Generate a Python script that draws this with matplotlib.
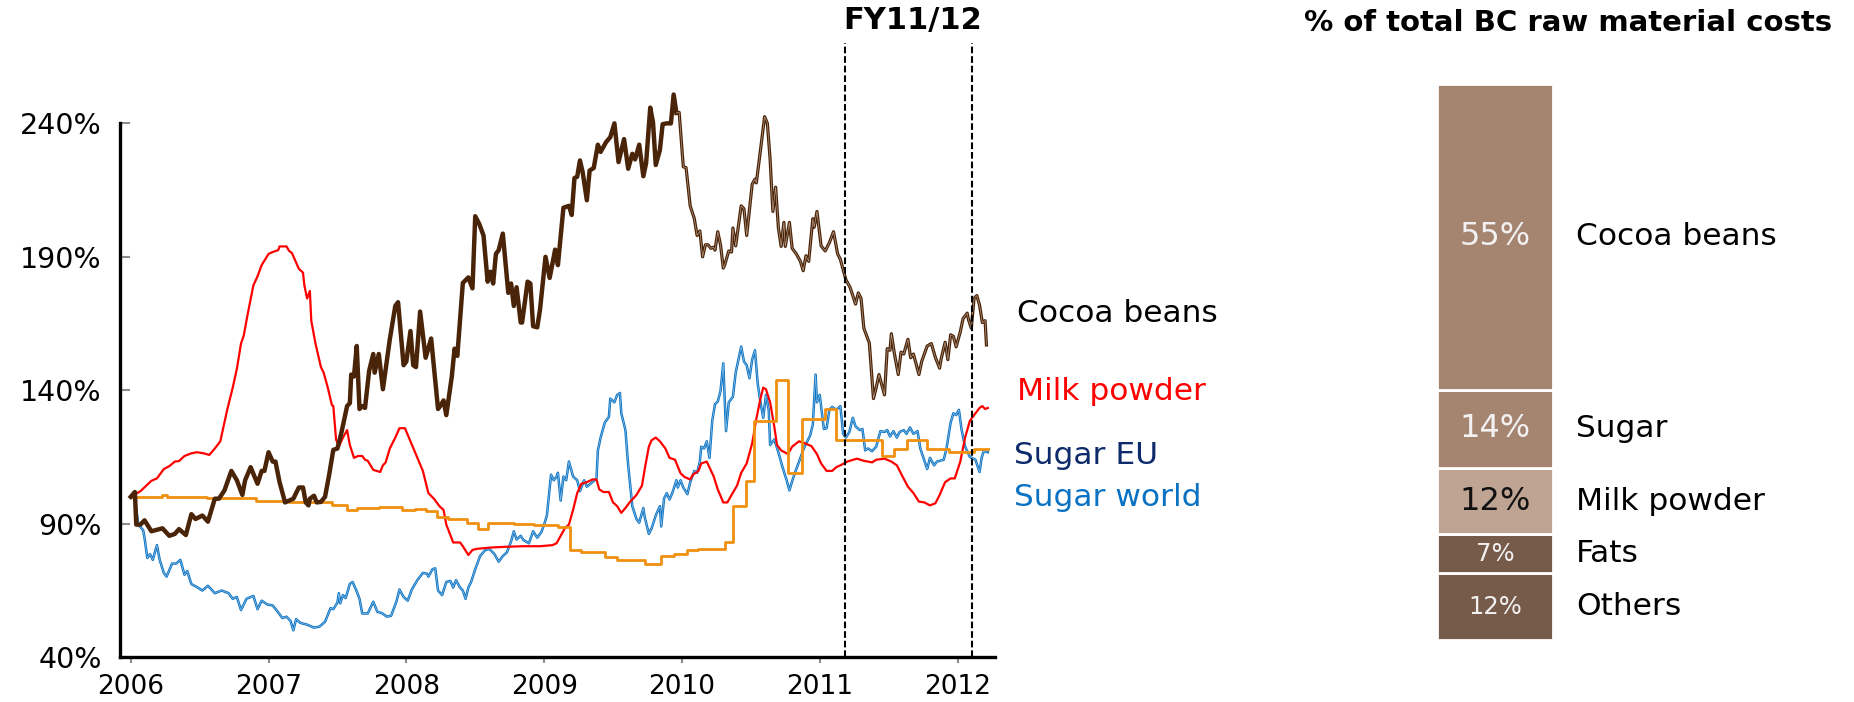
import matplotlib
matplotlib.use('Agg')
import matplotlib.pyplot as plt

W, H = 1854, 702

# price index, weekly, 2006 = 100%
cocoa_year = [2006.00, 2006.03, 2006.04, 2006.07, 2006.10, 2006.15, 2006.23, 2006.28, 2006.32, 2006.35,
              2006.40, 2006.44, 2006.47, 2006.52, 2006.56, 2006.61, 2006.64, 2006.68, 2006.73, 2006.77,
              2006.81, 2006.83, 2006.87, 2006.92, 2006.95, 2006.97, 2007.00, 2007.03, 2007.05, 2007.08,
              2007.12, 2007.15, 2007.18, 2007.22, 2007.25, 2007.27, 2007.29, 2007.30, 2007.33, 2007.35,
              2007.38, 2007.41, 2007.44, 2007.47, 2007.50, 2007.53, 2007.57, 2007.59, 2007.60, 2007.62,
              2007.64, 2007.66, 2007.68, 2007.70, 2007.73, 2007.76, 2007.77, 2007.80, 2007.83, 2007.88,
              2007.92, 2007.94, 2007.98, 2008.00, 2008.03, 2008.05, 2008.07, 2008.10, 2008.14, 2008.18,
              2008.23, 2008.25, 2008.27, 2008.29, 2008.33, 2008.35, 2008.37, 2008.41, 2008.45, 2008.48,
              2008.50, 2008.53, 2008.56, 2008.59, 2008.61, 2008.63, 2008.65, 2008.67, 2008.70, 2008.74,
              2008.76, 2008.78, 2008.80, 2008.83, 2008.84, 2008.88, 2008.90, 2008.92, 2008.95, 2008.97,
              2009.01, 2009.04, 2009.08, 2009.10, 2009.14, 2009.18, 2009.20, 2009.22, 2009.24, 2009.26,
              2009.28, 2009.31, 2009.33, 2009.36, 2009.39, 2009.41, 2009.45, 2009.48, 2009.51, 2009.54,
              2009.58, 2009.61, 2009.64, 2009.66, 2009.69, 2009.72, 2009.74, 2009.77, 2009.79, 2009.81,
              2009.84, 2009.86, 2009.89, 2009.92, 2009.94, 2009.96, 2009.98, 2010.01, 2010.03, 2010.06,
              2010.09, 2010.11, 2010.13, 2010.15, 2010.17, 2010.19, 2010.21, 2010.23, 2010.24, 2010.26,
              2010.28, 2010.30, 2010.31, 2010.34, 2010.36, 2010.37, 2010.39, 2010.43, 2010.45, 2010.47,
              2010.51, 2010.53, 2010.54, 2010.57, 2010.60, 2010.62, 2010.64, 2010.66, 2010.68, 2010.70,
              2010.72, 2010.74, 2010.75, 2010.78, 2010.80, 2010.83, 2010.86, 2010.88, 2010.90, 2010.92,
              2010.95, 2010.96, 2010.98, 2011.01, 2011.04, 2011.07, 2011.10, 2011.13, 2011.15, 2011.19,
              2011.22, 2011.26, 2011.28, 2011.30, 2011.32, 2011.36, 2011.39, 2011.41, 2011.43, 2011.47,
              2011.49, 2011.51, 2011.52, 2011.54, 2011.57, 2011.59, 2011.61, 2011.64, 2011.66, 2011.68,
              2011.72, 2011.74, 2011.78, 2011.81, 2011.84, 2011.87, 2011.88, 2011.91, 2011.93, 2011.95,
              2011.97, 2011.99, 2012.02, 2012.04, 2012.07, 2012.08, 2012.10, 2012.12, 2012.14, 2012.16,
              2012.18, 2012.20, 2012.21]
cocoa_val = [100.0, 101.8, 89.6, 89.6, 91.2, 87.1, 88.2, 85.4, 86.1, 87.9,
             85.7, 93.5, 91.7, 93.0, 90.7, 99.3, 99.3, 102.4, 109.7, 106.2,
             100.7, 106.2, 111.1, 104.9, 109.7, 109.7, 116.7, 113.2, 113.2, 105.5,
             97.9, 98.6, 99.3, 103.5, 103.5, 97.9, 96.8, 99.3, 100.4, 97.9,
             98.1, 100.0, 108.3, 117.6, 118.1, 124.3, 134.0, 135.1, 145.8, 145.1,
             156.5, 132.9, 134.0, 133.3, 147.2, 153.5, 146.5, 153.5, 140.3, 159.0,
             171.5, 172.9, 149.3, 150.7, 162.1, 149.3, 148.6, 169.4, 152.1, 159.3,
             132.9, 134.3, 136.1, 130.6, 145.1, 155.5, 152.8, 180.1, 182.2, 178.1,
             205.1, 202.1, 197.9, 180.6, 184.3, 179.9, 191.0, 192.4, 198.6, 176.4,
             179.9, 171.5, 178.5, 165.3, 165.3, 180.6, 179.9, 163.9, 163.5, 170.1,
             189.9, 182.0, 192.6, 186.8, 208.3, 209.0, 205.6, 219.4, 219.9, 226.0,
             221.5, 211.1, 222.2, 223.2, 231.9, 229.2, 232.9, 234.7, 239.9, 225.4,
             234.0, 222.9, 228.5, 226.4, 231.9, 220.1, 225.0, 245.8, 240.3, 224.3,
             229.9, 239.6, 239.9, 239.9, 250.7, 243.8, 244.0, 223.6, 223.3, 209.0,
             204.2, 197.9, 199.6, 189.9, 194.4, 194.4, 193.1, 193.5, 192.4, 199.3,
             194.4, 185.7, 186.8, 192.1, 191.7, 200.7, 194.0, 209.0, 207.9, 197.9,
             217.1, 219.0, 217.6, 229.9, 242.4, 239.9, 226.4, 206.9, 216.0, 200.7,
             193.8, 202.8, 193.8, 202.8, 193.1, 191.0, 188.2, 184.7, 190.3, 188.2,
             204.2, 201.0, 206.9, 194.0, 192.1, 195.2, 199.3, 191.0, 188.9, 181.3,
             178.5, 172.2, 176.4, 174.3, 163.2, 157.6, 136.8, 141.0, 145.8, 138.2,
             155.5, 154.9, 161.1, 154.2, 145.8, 154.2, 153.5, 159.0, 152.1, 153.5,
             145.8, 150.7, 156.5, 157.4, 152.1, 148.2, 151.4, 157.9, 151.4, 160.7,
             160.1, 156.2, 161.8, 166.7, 168.8, 166.3, 163.2, 174.3, 175.4, 171.8,
             165.3, 166.0, 156.9]

milk_year = [2006.00, 2006.07, 2006.15, 2006.19, 2006.24, 2006.28, 2006.32, 2006.35, 2006.39, 2006.44,
             2006.48, 2006.53, 2006.57, 2006.61, 2006.65, 2006.70, 2006.74, 2006.77, 2006.80, 2006.82,
             2006.85, 2006.89, 2006.92, 2006.95, 2007.00, 2007.03, 2007.07, 2007.08, 2007.13, 2007.15,
             2007.17, 2007.22, 2007.25, 2007.26, 2007.28, 2007.30, 2007.31, 2007.34, 2007.38, 2007.40,
             2007.43, 2007.46, 2007.47, 2007.49, 2007.51, 2007.54, 2007.57, 2007.59, 2007.62, 2007.65,
             2007.68, 2007.70, 2007.72, 2007.76, 2007.81, 2007.83, 2007.85, 2007.88, 2007.92, 2007.95,
             2007.99, 2008.03, 2008.08, 2008.12, 2008.16, 2008.20, 2008.24, 2008.27, 2008.29, 2008.34,
             2008.39, 2008.41, 2008.45, 2008.48, 2008.51, 2008.61, 2008.73, 2008.85, 2008.97, 2009.06,
             2009.09, 2009.12, 2009.15, 2009.18, 2009.21, 2009.24, 2009.27, 2009.31, 2009.35, 2009.38,
             2009.40, 2009.43, 2009.47, 2009.50, 2009.53, 2009.56, 2009.59, 2009.62, 2009.67, 2009.71,
             2009.73, 2009.76, 2009.78, 2009.81, 2009.84, 2009.88, 2009.91, 2009.95, 2009.99, 2010.02,
             2010.06, 2010.08, 2010.12, 2010.14, 2010.18, 2010.23, 2010.26, 2010.30, 2010.33, 2010.36,
             2010.40, 2010.43, 2010.47, 2010.51, 2010.54, 2010.57, 2010.59, 2010.61, 2010.64, 2010.67,
             2010.69, 2010.72, 2010.77, 2010.80, 2010.85, 2010.89, 2010.94, 2010.98, 2011.01, 2011.05,
             2011.09, 2011.12, 2011.15, 2011.20, 2011.27, 2011.32, 2011.38, 2011.41, 2011.47, 2011.52,
             2011.56, 2011.60, 2011.64, 2011.68, 2011.72, 2011.76, 2011.80, 2011.84, 2011.87, 2011.91,
             2011.95, 2011.98, 2012.02, 2012.055, 2012.09, 2012.13, 2012.16, 2012.18, 2012.20, 2012.22]
milk_val = [100.0, 102.1, 106.0, 106.9, 110.4, 111.5, 113.2, 113.4, 115.3, 116.3,
            116.7, 116.3, 115.7, 118.1, 120.8, 132.6, 140.9, 147.9, 157.4, 160.4,
            168.8, 179.2, 182.6, 186.8, 191.0, 191.7, 192.4, 193.8, 193.8, 192.1,
            191.3, 185.4, 184.0, 179.2, 174.3, 177.1, 166.0, 157.6, 148.6, 146.5,
            140.9, 134.3, 134.0, 121.5, 118.8, 122.2, 125.0, 119.4, 114.6, 115.3,
            115.3, 113.9, 113.5, 110.1, 109.3, 111.8, 112.9, 118.1, 122.2, 125.7,
            125.7, 120.8, 114.6, 109.7, 101.4, 99.3, 96.5, 95.1, 89.6, 82.9,
            82.9, 81.5, 78.2, 80.1, 80.5, 81.0, 81.3, 81.5, 81.5, 81.9,
            82.6, 85.4, 88.2, 89.6, 95.1, 101.4, 104.9, 105.5, 106.5, 106.5,
            102.8, 101.8, 101.8, 97.9, 96.5, 94.0, 95.8, 97.9, 100.7, 104.2,
            110.4, 118.8, 121.2, 122.2, 120.8, 118.1, 114.6, 113.9, 108.8, 107.4,
            106.5, 108.3, 109.7, 112.5, 113.2, 107.7, 102.8, 97.9, 97.9, 100.7,
            104.2, 109.0, 112.5, 120.1, 129.2, 136.8, 140.9, 140.3, 135.4, 126.4,
            119.4, 117.4, 116.0, 118.8, 120.8, 120.1, 119.0, 116.0, 112.5, 109.7,
            109.7, 111.1, 111.8, 113.2, 114.3, 113.5, 112.9, 113.9, 114.3, 113.2,
            111.8, 107.7, 103.8, 101.4, 98.2, 97.9, 96.8, 97.6, 100.7, 105.5,
            106.9, 106.9, 113.2, 122.2, 128.5, 131.3, 133.3, 134.0, 132.9, 133.3]

sugar_world_year = [2006.01, 2006.03, 2006.055, 2006.09, 2006.10, 2006.12, 2006.14, 2006.16, 2006.19, 2006.21,
                    2006.24, 2006.26, 2006.30, 2006.33, 2006.36, 2006.39, 2006.41, 2006.44, 2006.48, 2006.52,
                    2006.56, 2006.61, 2006.66, 2006.71, 2006.74, 2006.77, 2006.80, 2006.84, 2006.89, 2006.92,
                    2006.95, 2006.99, 2007.03, 2007.06, 2007.10, 2007.13, 2007.16, 2007.18, 2007.20, 2007.23,
                    2007.28, 2007.33, 2007.37, 2007.41, 2007.45, 2007.47, 2007.50, 2007.51, 2007.52, 2007.54,
                    2007.56, 2007.59, 2007.61, 2007.64, 2007.66, 2007.68, 2007.72, 2007.76, 2007.79, 2007.82,
                    2007.86, 2007.89, 2007.93, 2007.95, 2007.98, 2008.01, 2008.04, 2008.08, 2008.12, 2008.15,
                    2008.16, 2008.19, 2008.21, 2008.23, 2008.26, 2008.29, 2008.32, 2008.34, 2008.36, 2008.39,
                    2008.41, 2008.43, 2008.45, 2008.47, 2008.50, 2008.535, 2008.57, 2008.60, 2008.62, 2008.64,
                    2008.67, 2008.70, 2008.73, 2008.76, 2008.78, 2008.80, 2008.83, 2008.85, 2008.89, 2008.92,
                    2008.95, 2008.98, 2009.00, 2009.02, 2009.05, 2009.07, 2009.09, 2009.10, 2009.12, 2009.14,
                    2009.16, 2009.18, 2009.21, 2009.24, 2009.26, 2009.29, 2009.31, 2009.35, 2009.38, 2009.39,
                    2009.41, 2009.44, 2009.47, 2009.48, 2009.51, 2009.53, 2009.55, 2009.56, 2009.59, 2009.61,
                    2009.64, 2009.67, 2009.69, 2009.72, 2009.73, 2009.76, 2009.78, 2009.81, 2009.84, 2009.85,
                    2009.87, 2009.89, 2009.91, 2009.93, 2009.96, 2009.97, 2009.99, 2010.01, 2010.04, 2010.06,
                    2010.09, 2010.11, 2010.13, 2010.14, 2010.16, 2010.18, 2010.20, 2010.22, 2010.24, 2010.26,
                    2010.28, 2010.30, 2010.32, 2010.34, 2010.37, 2010.39, 2010.43, 2010.45, 2010.47, 2010.49,
                    2010.51, 2010.53, 2010.55, 2010.57, 2010.59, 2010.61, 2010.63, 2010.64, 2010.67, 2010.70,
                    2010.73, 2010.76, 2010.78, 2010.80, 2010.83, 2010.86, 2010.89, 2010.93, 2010.95, 2010.97,
                    2010.98, 2011.00, 2011.03, 2011.05, 2011.07, 2011.09, 2011.12, 2011.15, 2011.17, 2011.19,
                    2011.215, 2011.24, 2011.26, 2011.29, 2011.31, 2011.33, 2011.35, 2011.38, 2011.41, 2011.44,
                    2011.47, 2011.49, 2011.51, 2011.535, 2011.56, 2011.58, 2011.61, 2011.63, 2011.655, 2011.68,
                    2011.71, 2011.73, 2011.78, 2011.80, 2011.83, 2011.85, 2011.90, 2011.92, 2011.95, 2011.97,
                    2011.99, 2012.01, 2012.03, 2012.055, 2012.09, 2012.13, 2012.16, 2012.175, 2012.19, 2012.22]
sugar_world_val = [100.0, 99.3, 89.6, 87.5, 84.7, 77.1, 78.5, 76.4, 81.9, 76.4,
                   71.5, 70.1, 75.0, 75.0, 76.4, 70.8, 72.2, 67.3, 66.2, 64.9,
                   66.7, 63.9, 64.9, 63.9, 61.8, 62.5, 57.6, 61.8, 62.9, 57.9,
                   61.1, 59.7, 59.3, 57.4, 54.6, 55.1, 53.5, 50.0, 54.2, 52.8,
                   52.1, 51.0, 51.4, 53.2, 58.3, 57.9, 60.4, 63.9, 60.1, 63.2,
                   62.1, 67.4, 68.1, 64.6, 61.8, 56.3, 56.3, 60.7, 56.9, 56.5,
                   55.1, 55.5, 61.1, 65.3, 62.5, 61.1, 65.3, 68.8, 71.5, 71.2,
                   70.1, 72.9, 73.2, 64.9, 63.2, 68.1, 68.5, 66.0, 68.8, 66.0,
                   64.9, 61.8, 66.0, 68.1, 72.9, 77.8, 79.9, 80.5, 79.6, 78.5,
                   75.7, 77.8, 79.2, 83.3, 87.1, 84.0, 85.4, 83.8, 82.6, 87.1,
                   84.7, 86.8, 89.6, 93.0, 108.3, 106.2, 107.6, 109.0, 98.6, 107.6,
                   106.2, 113.2, 107.6, 106.2, 102.1, 106.2, 103.8, 105.5, 106.9, 117.4,
                   122.2, 127.8, 129.9, 136.8, 135.4, 138.2, 138.9, 131.3, 125.0, 111.8,
                   96.5, 91.7, 90.3, 95.8, 92.4, 86.1, 88.2, 93.0, 96.5, 88.9,
                   99.3, 101.4, 99.0, 101.4, 106.2, 103.5, 106.2, 103.5, 101.0, 105.5,
                   109.7, 109.0, 113.2, 118.8, 118.1, 120.8, 114.6, 128.5, 134.7, 135.7,
                   139.6, 150.0, 124.6, 135.4, 137.5, 146.5, 156.3, 150.7, 149.3, 144.4,
                   151.4, 154.9, 142.4, 135.4, 129.6, 138.2, 132.6, 119.4, 121.5, 116.7,
                   111.1, 106.2, 102.4, 105.9, 110.4, 114.6, 118.8, 122.9, 127.1, 145.8,
                   135.4, 138.2, 125.4, 125.7, 132.6, 133.7, 132.6, 134.0, 123.6, 122.2,
                   124.3, 129.6, 126.4, 125.0, 125.4, 117.4, 118.1, 117.1, 118.8, 124.6,
                   124.3, 125.0, 122.6, 124.6, 122.2, 124.3, 125.0, 123.6, 126.0, 123.6,
                   124.6, 118.1, 110.4, 114.6, 111.8, 113.2, 113.9, 118.1, 127.8, 131.3,
                   130.6, 132.6, 125.0, 118.8, 114.9, 113.9, 109.3, 114.6, 117.1, 116.7]

# EU sugar price moves in steps (value holds until the next date)
sugar_eu_year = [2006.00, 2006.23, 2006.26, 2006.55, 2006.91, 2007.15, 2007.46, 2007.57, 2007.645, 2007.80,
                 2007.97, 2008.06, 2008.14, 2008.22, 2008.30, 2008.44, 2008.52, 2008.595, 2008.78, 2008.93,
                 2009.10, 2009.19, 2009.27, 2009.36, 2009.44, 2009.53, 2009.73, 2009.85, 2009.94, 2010.04,
                 2010.12, 2010.31, 2010.37, 2010.465, 2010.52, 2010.68, 2010.77, 2010.87, 2011.04, 2011.115,
                 2011.45, 2011.54, 2011.63, 2011.775, 2011.94, 2012.12, 2012.22]
sugar_eu_val = [100.0, 100.6, 100.0, 99.4, 98.3, 97.9, 96.8, 94.9, 95.8, 96.3,
                95.1, 95.6, 94.7, 92.4, 91.7, 90.3, 87.9, 90.3, 90.0, 89.6,
                88.6, 80.1, 79.2, 79.4, 77.4, 76.4, 75.0, 77.8, 78.5, 79.9,
                80.5, 82.9, 96.5, 106.0, 128.5, 143.8, 108.8, 129.2, 132.9, 121.2,
                115.3, 118.1, 121.2, 118.1, 116.7, 118.1, 118.1]

years = [2006, 2007, 2008, 2009, 2010, 2011, 2012]
yticks = [40, 90, 140, 190, 240]
fy_bounds = [2011.184, 2012.103]

# share of raw material costs
mat_names = ['Others', 'Fats', 'Milk powder', 'Sugar', 'Cocoa beans']
mat_share = [12, 7, 12, 14, 55]
mat_colors = ['#775B4A', '#775B4A', '#BFA494', '#A58470', '#A58470']
mat_txt = ['#F2F2F2', '#F2F2F2', '#111111', '#F2F2F2', '#F2F2F2']
mat_size = [17.5, 17.5, 23, 23, 23]

fig = plt.figure(figsize=(W / 100, H / 100), dpi=100)

ax = fig.add_axes([120 / W, 1 - 657 / H, 875 / W, 614 / H])
ax.set_xlim(2005.922, 2012.272)
ax.set_ylim(40, 270)

k = next(i for i, y in enumerate(cocoa_year) if y >= 2009.95)
ax.plot(cocoa_year[:k + 1], cocoa_val[:k + 1], color='#4A2408', lw=3.2, zorder=5,
        solid_joinstyle='round')
ax.plot(cocoa_year[k:], cocoa_val[k:], color='#4A2408', lw=2.3, zorder=5)
ax.plot(cocoa_year[k:], cocoa_val[k:], color='#B89C88', lw=0.5, zorder=6)
ax.plot(milk_year, milk_val, color='#FF0000', lw=1.6, zorder=3)
ax.plot(sugar_world_year, sugar_world_val, color='#0A72C2', lw=1.8, zorder=2)
ax.plot(sugar_world_year, sugar_world_val, color='#8EC0E6', lw=0.5, zorder=2)
ax.step(sugar_eu_year, sugar_eu_val, where='post', color='#F0900F', lw=2.0, zorder=4)

ax.vlines(fy_bounds, 40, 270, colors='black', linestyles=(0, (3.2, 1.4)), lw=1.5,
          clip_on=False, zorder=7)

for s in ['top', 'right']:
    ax.spines[s].set_visible(False)
ax.spines['left'].set_bounds(40, 240)
ax.spines['left'].set_linewidth(2.4)
ax.spines['bottom'].set_linewidth(2.4)

ax.set_yticks(yticks)
ax.set_yticklabels([f'{v}%' for v in yticks])
ax.set_xticks(years)
ax.set_xticklabels([str(y) for y in years])
ax.tick_params(axis='y', direction='in', length=7, width=1.5, color='#8C8C8C',
               pad=13, labelsize=20.5)
ax.tick_params(axis='x', direction='out', length=4, width=1.5, color='#8C8C8C',
               pad=8, labelsize=19)

fig.text(913 / W, 1 - 21 / H, 'FY11/12', ha='center', va='center', fontsize=22,
         fontweight='bold')

fig.text(1017 / W, 1 - 314 / H, 'Cocoa beans', ha='left', va='center', fontsize=22.5,
         color='black')
fig.text(1017 / W, 1 - 392 / H, 'Milk powder', ha='left', va='center', fontsize=22.5,
         color='#FF0000')
fig.text(1014 / W, 1 - 455 / H, 'Sugar EU', ha='left', va='center', fontsize=22.5,
         color='#0D2A6B')
fig.text(1014 / W, 1 - 498 / H, 'Sugar world', ha='left', va='center', fontsize=22.5,
         color='#0A72C2')

# stacked bar on the right
bx = fig.add_axes([1437 / W, 1 - 640 / H, 116 / W, 556 / H])
bx.set_xlim(-0.5, 0.5)
bx.set_ylim(0, 100)
bx.axis('off')
bottom = 0
for name, v, c, tc, fs in zip(mat_names, mat_share, mat_colors, mat_txt, mat_size):
    bx.bar(0, v, bottom=bottom, width=1, color=c, edgecolor='white', linewidth=2)
    bx.text(0, bottom + v / 2, f'{v}%', ha='center', va='center', fontsize=fs, color=tc)
    bx.text(0.70, bottom + v / 2, name, ha='left', va='center', fontsize=22.5,
            color='black', clip_on=False)
    bottom += v

fig.text(1568 / W, 1 - 23 / H, '% of total BC raw material costs', ha='center',
         va='center', fontsize=21, fontweight='bold')

fig.savefig('out.png', dpi=100)
